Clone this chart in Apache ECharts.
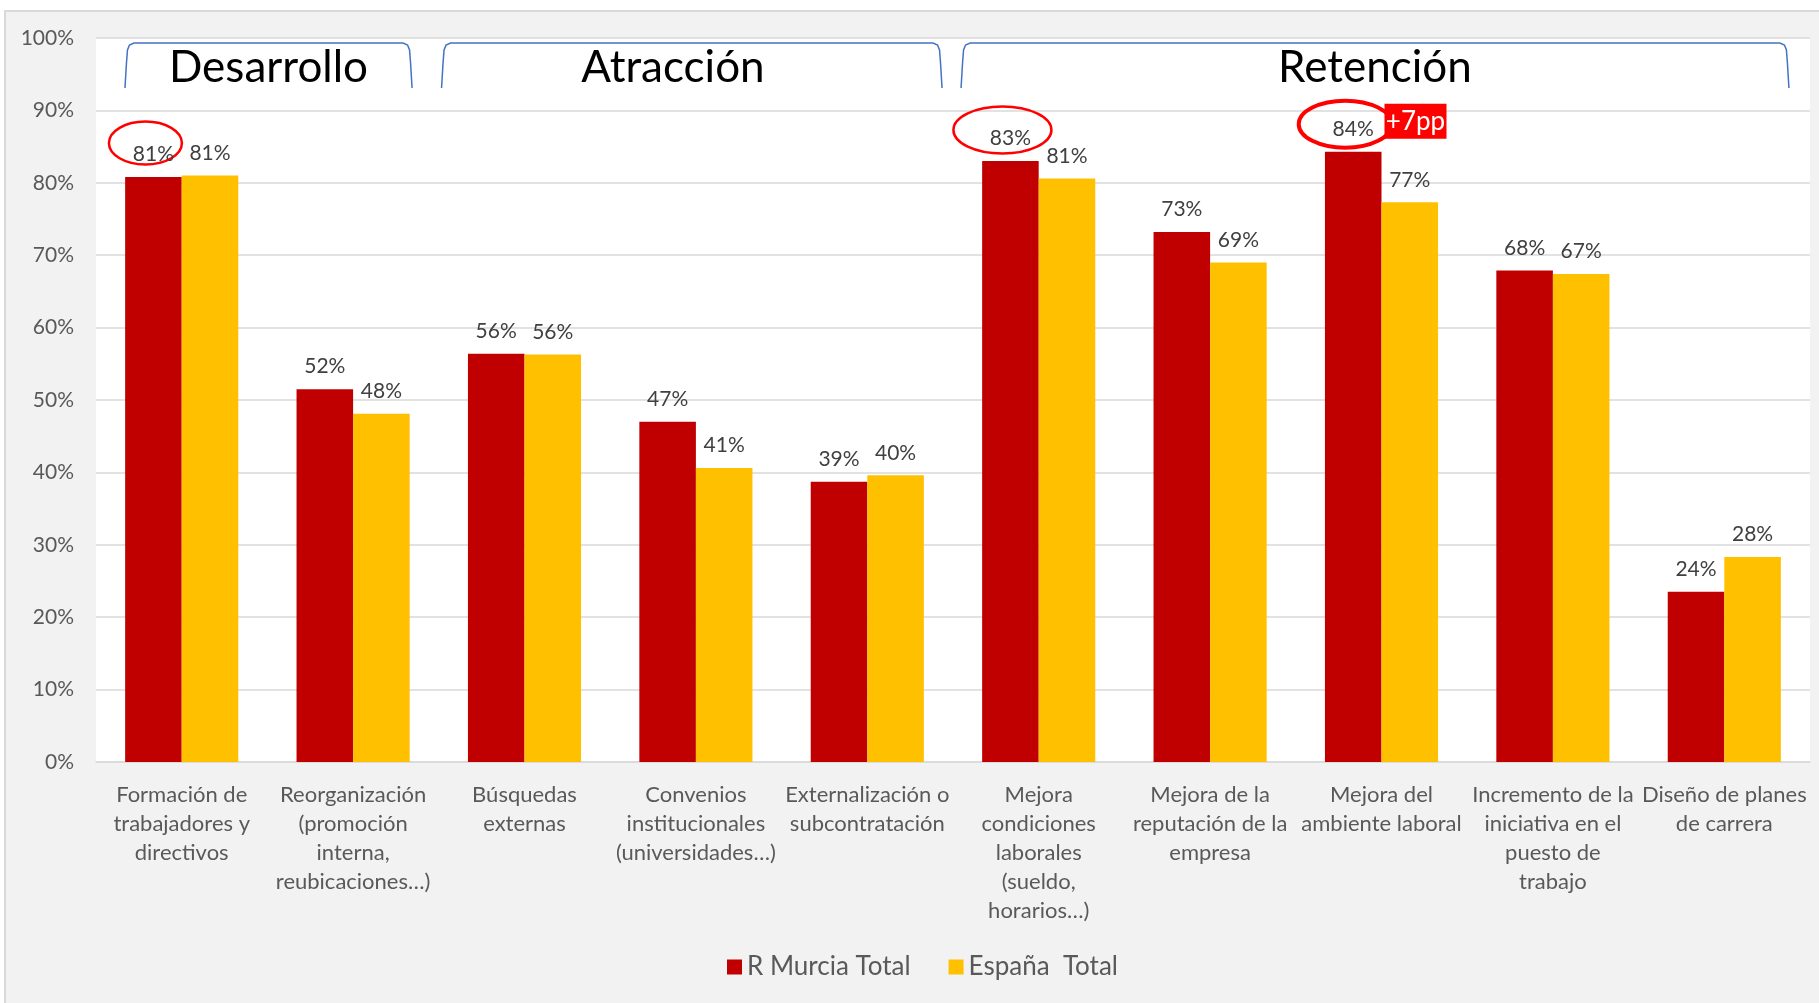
<!DOCTYPE html>
<html>
<head>
<meta charset="utf-8">
<script src="https://cdn.jsdelivr.net/npm/echarts@6/dist/echarts.min.js"></script>
<style>
  html, body { margin: 0; padding: 0; background: #fff; overflow: hidden; }
  #frame { position: absolute; left: 4px; top: 10px; width: 1830px; height: 1010px; background: #f2f2f2; border-top: 2px solid #d9d9d9; border-left: 2px solid #d9d9d9; }
  #chart { position: absolute; left: 0; top: 0; width: 1819px; height: 1003px; }
</style>
</head>
<body>
<div id="frame"></div>
<div id="chart"></div>
<script>
const categories = [
  'Formación de\ntrabajadores y\ndirectivos',
  'Reorganización\n(promoción\ninterna,\nreubicaciones…)',
  'Búsquedas\nexternas',
  'Convenios\ninstitucionales\n(universidades…)',
  'Externalización o\nsubcontratación',
  'Mejora\ncondiciones\nlaborales\n(sueldo,\nhorarios…)',
  'Mejora de la\nreputación de la\nempresa',
  'Mejora del\nambiente laboral',
  'Incremento de la\niniciativa en el\npuesto de\ntrabajo',
  'Diseño de planes\nde carrera'
];
const murcia = [80.8, 51.5, 56.4, 47.0, 38.7, 83.0, 73.2, 84.3, 67.9, 23.5];
const espana = [81.0, 48.1, 56.3, 40.6, 39.6, 80.6, 69.0, 77.3, 67.4, 28.3];
const seriesNames = ['R Murcia Total', 'España  Total'];

// grupos de categorías (corchetes de arriba)
const groupNames = ['Desarrollo', 'Atracción', 'Retención'];
const groupFirst = [0, 2, 5];
const groupLast = [1, 4, 9];

// etiquetas rodeadas con elipse roja
const circled = [0, 5, 7];
const gapNote = '+7pp';
const gapIndex = 7;

const FONT = 'Lato';
const chart = echarts.init(document.getElementById('chart'));

const label = {
  show: true,
  position: 'top',
  distance: 12,
  fontFamily: FONT,
  fontSize: 21,
  color: '#404040',
  formatter: (p) => Math.round(p.value) + '%'
};

chart.setOption({
  backgroundColor: 'transparent',
  animation: false,
  textStyle: { fontFamily: FONT },
  grid: {
    left: 96, right: 9, top: 38, bottom: 241,
    show: true, backgroundColor: '#fff', borderWidth: 0
  },
  legend: {
    left: 722, top: 949,
    icon: 'rect', itemWidth: 15, itemHeight: 15, itemGap: 38,
    textStyle: { fontFamily: FONT, fontSize: 26, color: '#595959' },
    data: seriesNames
  },
  xAxis: {
    type: 'category',
    data: categories,
    axisTick: { show: false },
    axisLine: { lineStyle: { color: '#d9d9d9', width: 1.5 } },
    axisLabel: { interval: 0, fontFamily: FONT, fontSize: 22, lineHeight: 29, color: '#595959', margin: 18 }
  },
  yAxis: {
    type: 'value',
    min: 0, max: 100, interval: 10,
    axisLabel: { formatter: '{value}%', fontFamily: FONT, fontSize: 21, color: '#595959', margin: 22 },
    splitLine: { lineStyle: { color: '#d9d9d9', width: 1.5 } }
  },
  series: [
    {
      name: seriesNames[0], type: 'bar', data: murcia,
      barWidth: '33%', barGap: '0%', barCategoryGap: '34%',
      itemStyle: { color: '#c00000' }, label: label
    },
    {
      name: seriesNames[1], type: 'bar', data: espana,
      barWidth: '33%',
      itemStyle: { color: '#ffc000' }, label: label
    }
  ]
});

function drawNotes() {
  const cx = (i) => chart.convertToPixel({ xAxisIndex: 0 }, i);
  const py = (v) => chart.convertToPixel({ yAxisIndex: 0 }, v);
  const catW = cx(1) - cx(0);
  const top = py(100);
  const els = [];

  // corchetes azules + títulos
  const ends = [[-0.331, 0.344, 0], [-0.484, 0.436, -0.11], [-0.453, 0.377, 0]];
  groupNames.forEach((name, g) => {
    const xl = cx(groupFirst[g]) + ends[g][0] * catW;
    const xr = cx(groupLast[g]) + ends[g][1] * catW;
    const yT = top + 5, yB = top + 50;
    els.push({
      type: 'polyline', silent: true,
      shape: { points: [[xl, yB], [xl + 1.5, yT + 20], [xl + 2.5, yT + 7], [xl + 4.5, yT + 2], [xl + 9, yT],
                        [xr - 9, yT], [xr - 4.5, yT + 2], [xr - 2.5, yT + 7], [xr - 1.5, yT + 20], [xr, yB]] },
      style: { stroke: '#4472c4', lineWidth: 1.5, fill: null }
    });
    els.push({
      type: 'text', silent: true,
      x: (xl + xr) / 2 + ends[g][2] * catW, y: top + 30,
      style: { text: name, font: '44px ' + FONT, fill: '#000', textAlign: 'center', textVerticalAlign: 'middle' }
    });
  });

  // elipses rojas sobre las etiquetas de Murcia
  const ell = [[36.5, 21.5, -9, 2.5], [49, 23.5, -6, 2.5], [46.5, 23.5, -2.5, 4]];
  circled.forEach((i, k) => {
    const x = cx(i) - catW * 0.165 - 8;
    const y = py(murcia[i]) - 25 + ell[k][2];
    els.push({
      type: 'ellipse', silent: true,
      shape: { cx: x, cy: y, rx: ell[k][0], ry: ell[k][1] },
      style: { stroke: '#ff0000', lineWidth: ell[k][3], fill: null }
    });
  });

  // recuadro +7pp
  const bx = cx(gapIndex) + 3;
  const by = py(murcia[gapIndex]) - 48;
  els.push({
    type: 'rect', silent: true, z: 10,
    shape: { x: bx, y: by, width: 62, height: 35 },
    style: { fill: '#ff0000' }
  });
  els.push({
    type: 'text', silent: true, z: 11,
    x: bx + 31, y: by + 18,
    style: { text: gapNote, font: '26px ' + FONT, fill: '#fff', textAlign: 'center', textVerticalAlign: 'middle' }
  });

  chart.setOption({ graphic: { elements: els } });
}

drawNotes();
</script>
</body>
</html>
